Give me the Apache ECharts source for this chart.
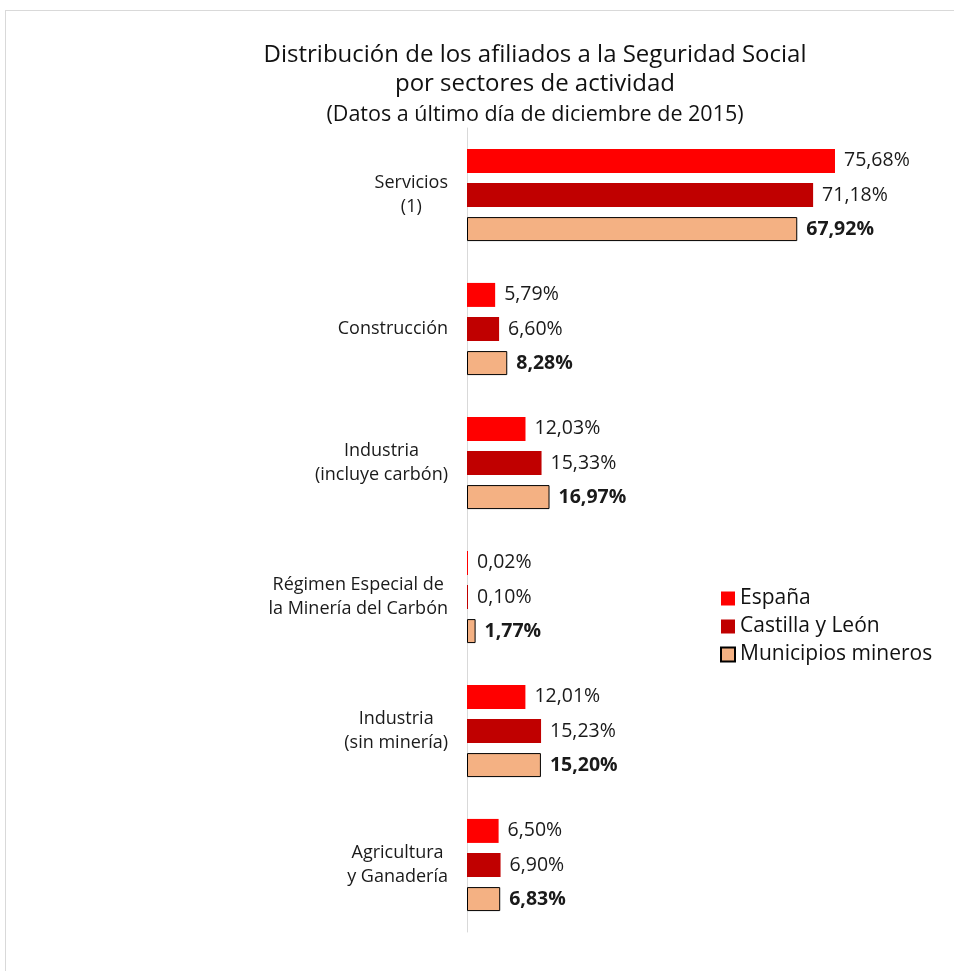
<!DOCTYPE html>
<html><head><meta charset="utf-8">
<script src="https://cdn.jsdelivr.net/npm/echarts@6/dist/echarts.min.js"></script>
<style>
html,body{margin:0;padding:0;background:#fff;}
#frame{position:absolute;left:5px;top:10px;width:949px;height:961px;border-top:1px solid #d9d9d9;border-left:1px solid #d9d9d9;}
#chart{position:absolute;left:0;top:0;width:954px;height:971px;}
</style></head>
<body>
<div id="frame"></div>
<div id="chart"></div>
<script>
const categories = ['Servicios\n(1)', 'Construcción', 'Industria\n(incluye carbón)', 'Régimen Especial de\nla Minería del Carbón', 'Industria\n(sin minería)', 'Agricultura\ny Ganadería'];
const seriesNames = ['España', 'Castilla y León', 'Municipios mineros'];
const espana = [75.68, 5.79, 12.03, 0.02, 12.01, 6.50];
const castilla = [71.18, 6.60, 15.33, 0.10, 15.23, 6.90];
const municipios = [67.92, 8.28, 16.97, 1.77, 15.20, 6.83];

const FONT = 'Open Sans';
const fmt = p => p.value.toFixed(2).replace('.', ',') + '%';

function mkSeries(name, data, color, bold, border) {
  return {
    name: name, type: 'bar', data: data,
    barWidth: 24, barGap: '42%', barMinHeight: 1,
    itemStyle: { color: color, borderColor: border || color, borderWidth: border ? 1 : 0 },
    label: { show: true, position: 'right', distance: 9, formatter: fmt,
      color: '#1a1a1a', fontFamily: FONT, fontSize: 19.5, fontWeight: bold ? 'bold' : 'normal' },
    emphasis: { disabled: true }, animation: false
  };
}

const chart = echarts.init(document.getElementById('chart'));
chart.setOption({
  animation: false,
  title: {
    text: 'Distribución de los afiliados a la Seguridad Social\npor sectores de actividad',
    subtext: '(Datos a último día de diciembre de 2015)',
    left: 530, top: 36, textAlign: 'center', itemGap: 4,
    textStyle: { fontFamily: FONT, fontSize: 24, fontWeight: 'normal', color: '#111', lineHeight: 29 },
    subtextStyle: { fontFamily: FONT, fontSize: 21.5, color: '#111', lineHeight: 24 }
  },
  legend: {
    orient: 'vertical', left: 715, top: 583, itemWidth: 14, itemHeight: 14, itemGap: 7,
    icon: 'rect',
    data: seriesNames,
    textStyle: { fontFamily: FONT, fontSize: 21, lineHeight: 21, color: '#111' }
  },
  grid: { left: 467, top: 128, width: 389, height: 804, containLabel: false },
  xAxis: { type: 'value', min: 0, max: 80, show: false },
  yAxis: {
    type: 'category', inverse: true, data: categories,
    axisLine: { show: true, lineStyle: { color: '#d9d9d9', width: 1 } },
    axisTick: { show: false },
    splitLine: { show: false },
    axisLabel: {
      margin: 19, align: 'right', color: '#1a1a1a', fontFamily: FONT, fontSize: 18, lineHeight: 24,
      formatter: v => v.split('\n').map(l => '{c|' + l + '}').join('\n'),
      rich: { c: { align: 'center', fontFamily: FONT, fontSize: 18, lineHeight: 24, color: '#1a1a1a' } }
    }
  },
  series: [
    mkSeries(seriesNames[0], espana, '#ff0000', false),
    mkSeries(seriesNames[1], castilla, '#c00000', false),
    mkSeries(seriesNames[2], municipios, '#f4b183', true, '#000000')
  ]
});
</script>
</body></html>
